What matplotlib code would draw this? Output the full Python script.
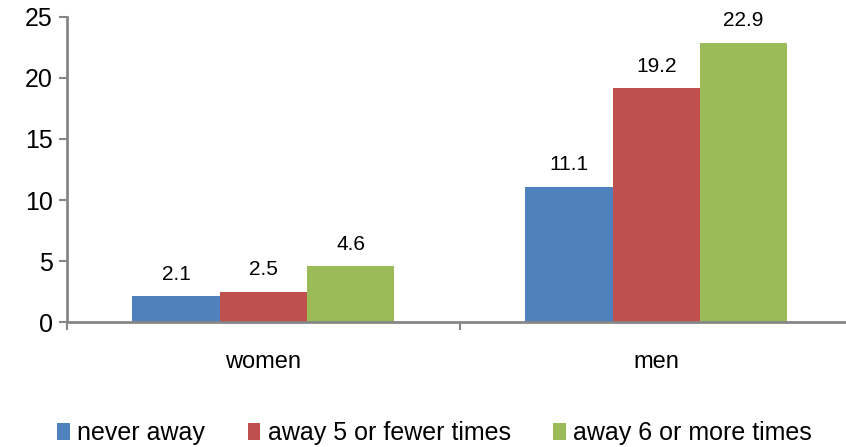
import matplotlib.pyplot as plt
import numpy as np

groups = ["women", "men"]
series = ["never away", "away 5 or fewer times", "away 6 or more times"]
never_away = [2.1, 11.1]
away_few = [2.5, 19.2]
away_many = [4.6, 22.9]
colors = ["#4F81BD", "#C0504D", "#9BBB59"]

plt.rcParams['font.family'] = ['Liberation Sans', 'DejaVu Sans']

fig = plt.figure(figsize=(8.46, 4.47), dpi=100)
ax = fig.add_axes([0.079, 0.2796, 0.929, 0.6824])

x = np.arange(len(groups))
width = 0.222
for i, (vals, name, col) in enumerate(zip([never_away, away_few, away_many], series, colors)):
    bars = ax.bar(x + (i - 1) * width, vals, width, color=col, label=name)
    for b, v in zip(bars, vals):
        ax.text(b.get_x() + b.get_width() / 2, v + 1.0, f"{v}", ha="center",
                va="bottom", fontsize=15)

ax.set_xlim(-0.5, 1.5)
ax.set_ylim(0, 25)
ax.set_yticks(range(0, 26, 5))
ax.tick_params(axis="y", labelsize=18, length=6, width=1.5, color="#868686", pad=4)

# category labels between boundary ticks
ax.set_xticks([-0.5, 0.5, 1.5])
ax.set_xticklabels([])
ax.tick_params(axis="x", length=6, width=1.5, color="#868686")
for xi, g in zip(x, groups):
    ax.text(xi, -3.3, g, ha="center", va="center", fontsize=17)

for s in ["top", "right"]:
    ax.spines[s].set_visible(False)
for s in ["left", "bottom"]:
    ax.spines[s].set_color("#868686")
    ax.spines[s].set_linewidth(2)

ax.legend(loc="center", bbox_to_anchor=(0.468, -0.365), ncol=3, frameon=False,
          fontsize=18, handlelength=0.5, handleheight=0.65, handletextpad=0.3,
          columnspacing=1.7)

plt.savefig("out.png", dpi=100)
